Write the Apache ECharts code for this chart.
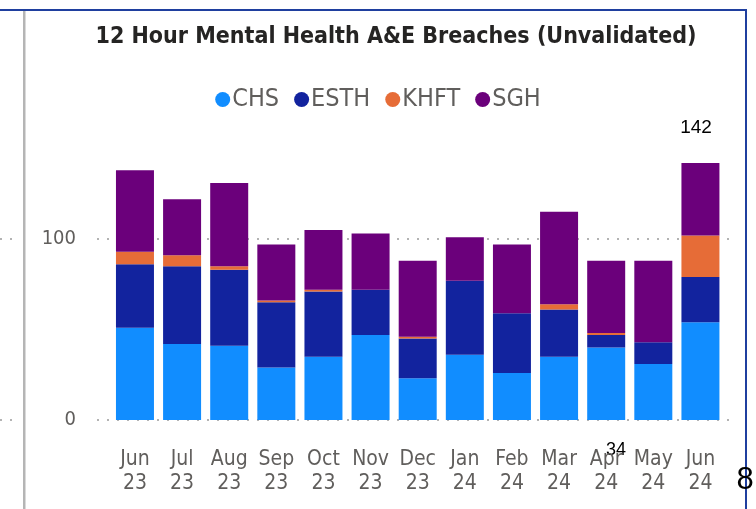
<!DOCTYPE html>
<html>
<head>
<meta charset="utf-8">
<script src="https://cdn.jsdelivr.net/npm/echarts@6/dist/echarts.min.js"></script>
<style>
  html, body { margin: 0; padding: 0; background: #fff; }
  #c { width: 756px; height: 509px; }
</style>
</head>
<body>
<div id="c"></div>
<script>
const months = ['Jun\n23', 'Jul\n23', 'Aug\n23', 'Sep\n23', 'Oct\n23', 'Nov\n23', 'Dec\n23',
  'Jan\n24', 'Feb\n24', 'Mar\n24', 'Apr\n24', 'May\n24', 'Jun\n24']
const chs = [51, 42, 41, 29, 35, 47, 23, 36, 26, 35, 40, 31, 54]
const esth = [35, 43, 42, 36, 36, 25, 22, 41, 33, 26, 7, 12, 25]
const khft = [7, 6, 2, 1, 1, 0, 1, 0, 0, 3, 1, 0, 23]
const sgh = [45, 31, 46, 31, 33, 31, 42, 24, 38, 51, 40, 45, 40]
const yTicks = [0, 100]

const font = 'DejaVu Sans Condensed, sans-serif'
const grey = '#605E5C'

const lastTotal = chs[12] + esth[12] + khft[12] + sgh[12]

function bar(name, data, color) {
  return {
    name,
    type: 'bar',
    stack: 'total',
    data,
    barWidth: 38,
    itemStyle: { color },
    emphasis: { disabled: true },
  }
}

const dotted = { type: [2, 8], color: '#9a9a9a', width: 1.5 }

const eIns = echarts.init(document.getElementById('c'))
eIns.setOption({
  animation: false,
  textStyle: { fontFamily: font },
  title: {
    text: '12 Hour Mental Health A&E Breaches (Unvalidated)',
    left: 391,
    textAlign: 'center',
    top: 21,
    textStyle: { fontFamily: font, fontSize: 23, fontWeight: 'bold', color: '#252423' },
  },
  legend: {
    top: 82,
    left: 'center',
    icon: 'circle',
    itemWidth: 15,
    itemHeight: 15,
    itemGap: 15,
    textStyle: { fontFamily: font, fontSize: 25, color: grey, padding: [0, 0, 0, -3] },
    data: ['CHS', 'ESTH', 'KHFT', 'SGH'],
  },
  grid: [
    { left: 111.4, right: 32, top: 130.4, bottom: 89 },
    { left: 97, right: 22, top: 130.4, bottom: 89 },
    { left: 0, width: 14, top: 130.4, bottom: 89 },
  ],
  xAxis: [
    {
      type: 'category',
      gridIndex: 0,
      data: months,
      axisLine: { show: false },
      axisTick: { show: false },
      axisLabel: { color: grey, fontSize: 21, lineHeight: 24, margin: 28, interval: 0, fontFamily: font },
    },
    { type: 'value', gridIndex: 1, show: false },
    { type: 'value', gridIndex: 2, show: false },
  ],
  yAxis: [
    { type: 'value', gridIndex: 0, min: 0, max: 160, interval: 100, show: false },
    {
      type: 'value',
      gridIndex: 1,
      min: 0,
      max: 160,
      interval: 100,
      axisLine: { show: false },
      axisTick: { show: false },
      axisLabel: {
        color: grey, fontSize: 20, margin: 21, showMaxLabel: false, fontFamily: font,
        formatter: v => (yTicks.includes(v) ? String(v) : ''),
      },
      splitLine: { show: true, showMaxLine: false, lineStyle: dotted },
    },
    {
      type: 'value',
      gridIndex: 2,
      min: 0,
      max: 160,
      interval: 100,
      axisLine: { show: false },
      axisTick: { show: false },
      axisLabel: { show: false },
      splitLine: { show: true, showMaxLine: false, lineStyle: dotted },
    },
  ],
  series: [
    bar('CHS', chs, '#118DFF'),
    bar('ESTH', esth, '#12239E'),
    bar('KHFT', khft, '#E66C37'),
    bar('SGH', sgh, '#6B007B'),
  ],
  graphic: [
    { type: 'rect', shape: { x: 0, y: 9, width: 747, height: 2 }, style: { fill: '#1F3F9F' } },
    { type: 'rect', shape: { x: 745, y: 9, width: 2, height: 500 }, style: { fill: '#1F3F9F' } },
    { type: 'rect', shape: { x: 23, y: 11, width: 2.5, height: 498 }, style: { fill: '#B5B5B5' } },
    { type: 'text', x: 696, y: 128, style: { text: String(lastTotal), font: '19px Liberation Sans, Arial, sans-serif', fill: '#000', align: 'center', verticalAlign: 'middle' } },
    { type: 'text', x: 616, y: 450, style: { text: '34', font: '18px Liberation Sans, Arial, sans-serif', fill: '#000', align: 'center', verticalAlign: 'middle' } },
    { type: 'text', x: 745, y: 480, style: { text: '8', font: '31px Liberation Sans, Arial, sans-serif', fill: '#000', align: 'center', verticalAlign: 'middle' } },
  ],
})
</script>
</body>
</html>
